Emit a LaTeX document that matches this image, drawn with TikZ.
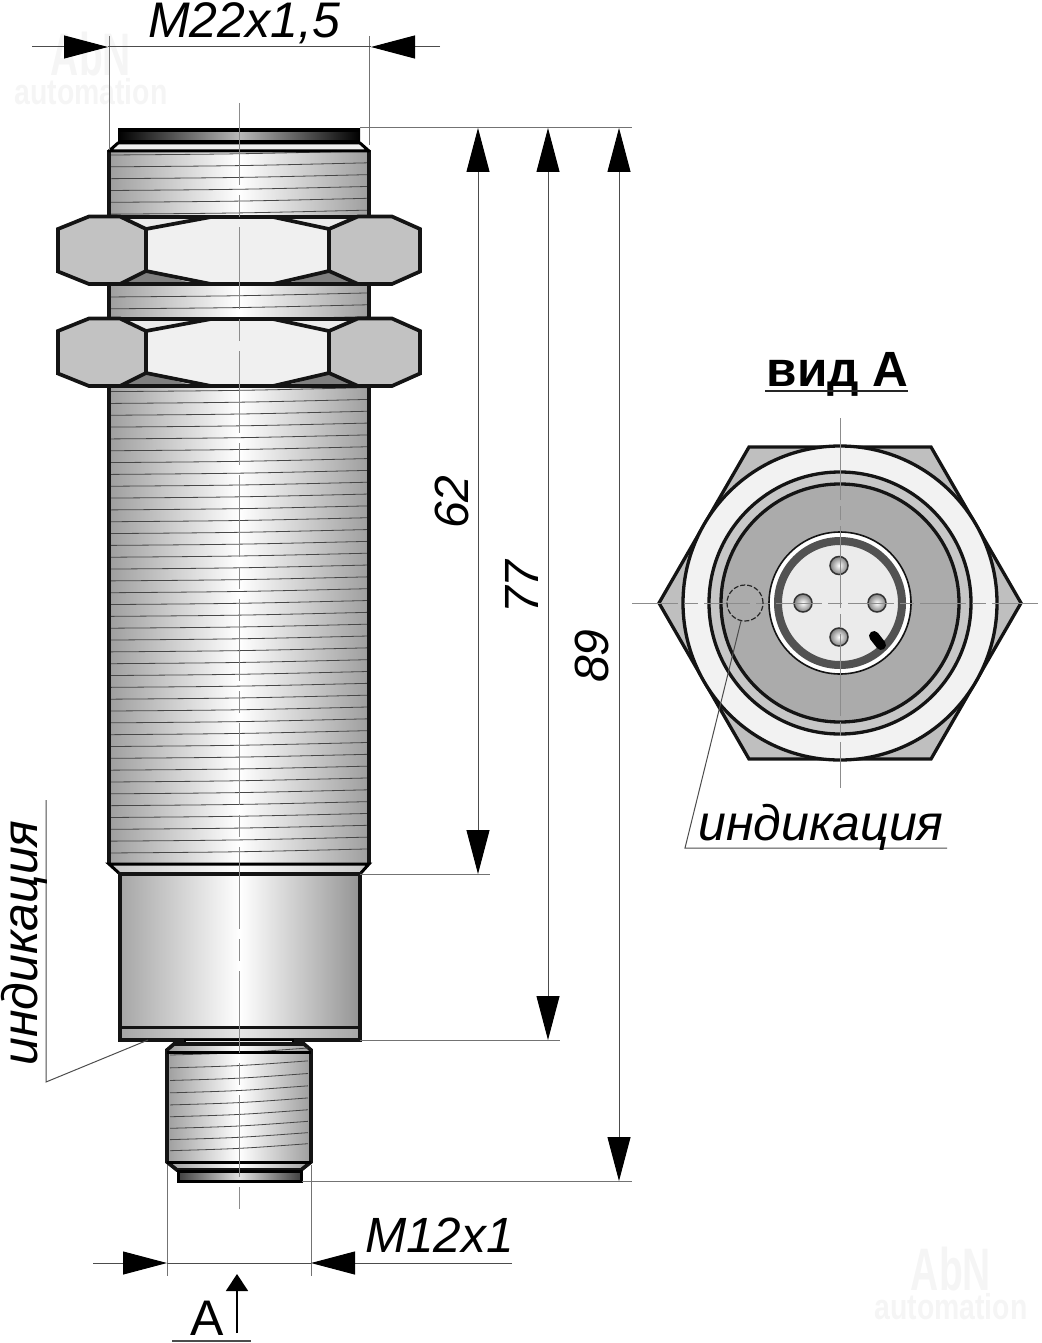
\documentclass[tikz,border=0pt]{standalone}
\usepackage{fontspec}
\setmainfont{Liberation Sans}
\usetikzlibrary{arrows.meta}
\pgfdeclareradialshading{ringsh}{\pgfpointorigin}{color(0bp)=(black!22); color(44bp)=(black!22); color(47bp)=(black!8); color(50bp)=(black!25)}
\tikzset{
  outline/.style={draw=black!92,line width=3.7pt,line join=miter},
  threadline/.style={draw=black!72,line width=.8pt},
  cline/.style={draw=black!45,line width=1pt},
  ext/.style={draw=black!55,line width=1pt},
  dimline/.style={draw=black!70,line width=1pt},
  bigtip/.style={-{Triangle[length=44pt,width=23pt,color=black]}},
  steel/.style={left color=black!38,right color=black!38,middle color=white},
  lbl/.style={inner sep=0pt,font=\fontsize{48pt}{48pt}\selectfont\itshape},
  wmark/.style={inner sep=0pt,text=black!4,align=center,anchor=base,font=\fontsize{36pt}{29pt}\selectfont\bfseries},
}
\newcommand{\wmtext}{\scalebox{.65}[1]{\fontsize{60pt}{60pt}\selectfont AbN}\\\scalebox{.79}[1]{automation}}
\begin{document}
\begin{tikzpicture}[x=1pt,y=-1pt]
\useasboundingbox (0,0) rectangle (1041,1343);
% watermarks
\node[wmark,anchor=center] (wmA) at (91,68) {\wmtext};
\node[wmark,anchor=center] (wmC) at (951,1283) {\wmtext};

% main thread
\shade[steel] (109,150) rectangle (369,864);
\foreach \k in {0,...,59}{
  \pgfmathsetmacro{\yy}{155+11.83*\k}
  \draw[threadline] (111,\yy) .. controls (240,\yy-1) .. (367,\yy-4);
}
\draw[outline] (109,150) -- (109,864);
\draw[outline] (369,150) -- (369,864);

% top chamfer and cap
\path[fill=black!6,draw=black,line width=3pt,line join=round] (118,143) -- (109,151) -- (369,151) -- (360,143) -- cycle;
\shade[left color=black,right color=black,middle color=black!28] (118,129) rectangle (360,142);
\fill[black] (118,128) rectangle (360,132);
\fill[black] (118,140) rectangle (360,143.5);

% nuts
\foreach \dy in {0,102}{
\begin{scope}[shift={(0,\dy)}]
  \fill[black!8] (120,217) -- (146,229) -- (195,217) -- cycle;
  \fill[black!8] (285,217) -- (329,229) -- (358,217) -- cycle;
  \fill[black!50] (120,284) -- (146,271) -- (195,284) -- cycle;
  \fill[black!50] (285,284) -- (329,271) -- (358,284) -- cycle;
  \draw[outline] (120,217) -- (358,217);
  \draw[outline] (120,284) -- (358,284);
  \path[outline,fill=black!6] (146,229) -- (211,217) -- (273,217) -- (329,229) -- (329,271) -- (273,284) -- (211,284) -- (146,271) -- cycle;
  \path[outline,fill=black!24] (58,229) -- (89,216.5) -- (120,216.5) -- (146,229) -- (146,271) -- (120,284) -- (89,284) -- (58,271.5) -- cycle;
  \path[outline,fill=black!24] (329,229) -- (358,216.5) -- (392,216.5) -- (420,229) -- (420,271.5) -- (392,284) -- (358,284) -- (329,271) -- cycle;
\end{scope}
}

% lower chamfer and housing
\path[left color=black!22,right color=black!22,middle color=white,draw=black,line width=3pt] (109,864) -- (120,874) -- (360,874) -- (369,864) -- cycle;
\path[outline,left color=black!35,right color=black!42,middle color=white] (120,874) rectangle (360,1040);
\path[left color=black!35,right color=black!35,middle color=black!10] (120,1027) rectangle (360,1039);
\draw[outline,line width=3pt] (120,1027) -- (360,1027);
\draw[outline] (120,1040) -- (360,1040);
\draw[outline] (120,1027) -- (120,1040);
\draw[outline] (360,1027) -- (360,1040);

% connector
\path[fill=black!8,draw=black,line width=2.5pt] (185,1040) rectangle (293,1045);
\path[outline,steel] (174,1044) -- (304,1044) -- (311,1050) -- (311,1162) -- (301,1170) -- (177,1170) -- (167,1162) -- (167,1050) -- cycle;
\foreach \k in {0,...,8}{
  \pgfmathsetmacro{\yy}{1055+13*\k-0.13*\k*\k}
  \draw[threadline] (170,\yy) .. controls (240,\yy-2) .. (308,\yy-7);
}
\draw[black,line width=3pt] (167,1052) -- (311,1052);
\draw[black,line width=3pt] (167,1162) -- (311,1162);
\path[draw=black,line width=3pt,left color=black!75,right color=black!75,middle color=black!12] (178,1171) rectangle (301,1181);

% main centre line
\draw[cline,dash pattern=on 82pt off 10pt on 22pt off 10pt] (239.5,103) -- (239.5,1212);

% extension lines
\coordinate (eTL) at (109,36);   \coordinate (eTLb) at (109,150);
\coordinate (eTR) at (369,36);   \coordinate (eTRb) at (369,145);
\coordinate (topA) at (360,128); \coordinate (topB) at (632,128);
\coordinate (midA) at (360,874); \coordinate (midB) at (490,874);
\coordinate (lowA) at (360,1040);\coordinate (lowB) at (560,1040);
\coordinate (botA) at (302,1181);\coordinate (botB) at (632,1181);
\coordinate (eBL) at (167,1165); \coordinate (eBLb) at (167,1276);
\coordinate (eBR) at (311,1165); \coordinate (eBRb) at (311,1276);
\draw[ext] (eTL) -- (eTLb);
\draw[ext] (eTR) -- (eTRb);
\draw[ext] (topA) -- (topB);
\draw[ext] (midA) -- (midB);
\draw[ext] (lowA) -- (lowB);
\draw[ext] (botA) -- (botB);
\draw[ext] (eBL) -- (eBLb);
\draw[ext] (eBR) -- (eBRb);

% M22 dimension
\coordinate (mA0) at (32,47); \coordinate (mA1) at (108,47);
\coordinate (mA2) at (371,47);\coordinate (mA3) at (440,47);
\draw[dimline] (mA1) -- (mA2);
\draw[dimline,bigtip] (mA0) -- (mA1);
\draw[dimline,bigtip] (mA3) -- (mA2);
\node[lbl,font=\fontsize{50pt}{50pt}\selectfont\itshape,anchor=base] (tM22) at (244,38) {M22x1,5};

% vertical dimensions
\coordinate (d1a) at (478,128); \coordinate (d1b) at (478,874);
\coordinate (d2a) at (548,128); \coordinate (d2b) at (548,1040);
\coordinate (d3a) at (619,128); \coordinate (d3b) at (619,1181);
\draw[dimline,{Triangle[length=44pt,width=23pt,color=black]}-{Triangle[length=44pt,width=23pt,color=black]}] (d1a) -- (d1b);
\draw[dimline,{Triangle[length=44pt,width=23pt,color=black]}-{Triangle[length=44pt,width=23pt,color=black]}] (d2a) -- (d2b);
\draw[dimline,{Triangle[length=44pt,width=23pt,color=black]}-{Triangle[length=44pt,width=23pt,color=black]}] (d3a) -- (d3b);
\node[lbl,rotate=90,anchor=base] (t62) at (468,502) {62};
\node[lbl,rotate=90,anchor=base] (t77) at (538,587) {77};
\node[lbl,rotate=90,anchor=base] (t89) at (608,656) {89};

% M12 dimension
\coordinate (nA0) at (93,1263); \coordinate (nA1) at (167,1263);
\coordinate (nA2) at (311,1263);\coordinate (nA3) at (512,1263);
\draw[dimline] (nA1) -- (nA2);
\draw[dimline,bigtip] (nA0) -- (nA1);
\draw[dimline,bigtip] (nA3) -- (nA2);
\node[lbl,font=\fontsize{49.5pt}{50pt}\selectfont\itshape,anchor=base] (tM12) at (439.5,1252) {M12x1};

% view arrow A
\coordinate (vA) at (237,1333); \coordinate (vB) at (237,1274);
\draw[black,line width=1.6pt,-{Triangle[length=17pt,width=22pt]}] (vA) -- (vB);
\node[inner sep=0pt,font=\fontsize{50pt}{50pt}\selectfont,anchor=base] (tA) at (207,1335) {A};
\coordinate (uA) at (172,1341); \coordinate (uB) at (251,1341);
\draw[black!70,line width=1.5pt] (uA) -- (uB);

% left indication label
\coordinate (iA) at (46,800); \coordinate (iB) at (46,1082); \coordinate (iC) at (148,1040);
\draw[black!70,line width=1pt] (iA) -- (iB) -- (iC);
\node[lbl,font=\fontsize{50pt}{50pt}\selectfont\itshape,rotate=90,anchor=base] (tIndL) at (37,943) {индикация};

% view A
\node[inner sep=0pt,font=\fontsize{49.5pt}{50pt}\selectfont\bfseries,anchor=base] (tVid) at (837.5,386) {вид А};
\coordinate (vU1) at (765,391); \coordinate (vU2) at (908,391);
\draw[black!85,line width=2pt] (vU1) -- (vU2);

\path[draw=black!92,line width=3.3pt,line join=miter,fill=black!25] (659,603) -- (749,447) -- (931,447) -- (1021,603) -- (931,759) -- (749,759) -- cycle;
\path[draw=black!92,line width=3.3pt,fill=black!5] (840,603) circle[radius=157pt];
\path[shading=ringsh] (840,603) circle[radius=131pt];
\draw[black!92,line width=3.3pt] (840,603) circle[radius=131pt];
\path[draw=black!92,line width=3.3pt,fill=black!33] (840,603) circle[radius=119pt];
\path[draw=black!92,line width=1.6pt,fill=white] (840,603) circle[radius=71pt];
\path[draw=black!68,line width=8pt,fill=black!8] (840,603) circle[radius=62pt];
\foreach \nn/\px/\py in {pinA/839/565.5,pinB/803/603,pinC/877/603,pinD/839/637}{
  \path[draw=black!80,line width=1.5pt,inner color=white,outer color=black!50] (\px,\py) circle[radius=9pt];
}
\coordinate (keyA) at (874,636); \coordinate (keyB) at (881,645);
\draw[black,line width=10pt,line cap=round] (keyA) -- (keyB);

\coordinate (cH1) at (632,603); \coordinate (cH2) at (1041,603);
\coordinate (cV1) at (840,418); \coordinate (cV2) at (840,788);
\draw[cline,dash pattern=on 46pt off 6pt on 14pt off 6pt] (cH1) -- (cH2);
\draw[cline,dash pattern=on 82pt off 6pt on 14pt off 6pt] (cV1) -- (cV2);
\draw[black!85,line width=1.2pt,dash pattern=on 5pt off 2pt] (745,603) circle[radius=18pt];

\coordinate (lA) at (741,621); \coordinate (lB) at (685,848); \coordinate (lC) at (947,848);
\draw[black!70,line width=1pt] (lA) -- (lB) -- (lC);
\node[lbl,font=\fontsize{50pt}{50pt}\selectfont\itshape,anchor=base] (tIndR) at (821,840) {индикация};
\end{tikzpicture}
\end{document}
